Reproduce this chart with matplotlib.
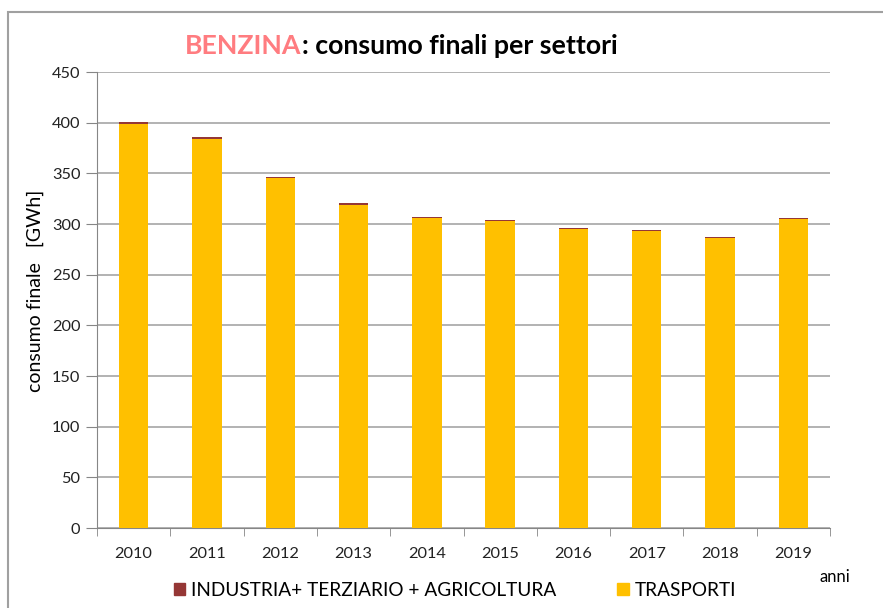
import numpy as np
import matplotlib
matplotlib.use('Agg')
from matplotlib import pyplot as plt
from matplotlib.patches import Rectangle, Patch

plt.rcParams['font.family'] = ['Lato', 'DejaVu Sans']

#%% Data
anni = ['2010', '2011', '2012', '2013', '2014', '2015', '2016', '2017', '2018', '2019']
trasporti = [399, 384, 345, 319, 306, 303, 295, 293, 286, 305]
industria = [1.5, 1.5, 1.5, 1.4, 1.4, 1.4, 1.4, 1.4, 1.3, 1.4]

col_tra = '#FFC000'
col_ind = '#953735'
grid_col = '#A6A6A6'

#%% Plot
fig = plt.figure(figsize=(8.83, 6.08), dpi=100)
fig.patches.append(Rectangle((8 / 883, -0.1), 1.2, (608 - 12) / 608 + 0.1, transform=fig.transFigure,
                             fill=False, edgecolor='#A0A0A0', linewidth=1.5))
ax = fig.add_axes([97 / 883, 80 / 608, 733 / 883, 456 / 608])

x = np.arange(len(anni))
ax.bar(x, trasporti, width=0.4, color=col_tra, zorder=3)
ax.bar(x, industria, width=0.4, bottom=trasporti, color=col_ind, zorder=3)

ax.set_xlim(-0.5, len(anni) - 0.5)
ax.set_ylim(0, 450)
ax.set_yticks(range(0, 451, 50))
ax.set_xticks(x)
ax.set_xticklabels(anni)
ax.set_xticks(np.arange(-0.5, len(anni), 1), minor=True)
ax.tick_params(axis='x', which='major', length=0, pad=14, labelsize=11.8, labelcolor='#222222')
ax.tick_params(axis='x', which='minor', length=6, colors='#868686', direction='out')
ax.tick_params(axis='y', length=8, colors='#868686', labelcolor='#222222', labelsize=11.8, pad=4)
ax.yaxis.grid(True, color=grid_col, linewidth=1.2, zorder=0)
for s in ['top', 'right']:
    ax.spines[s].set_visible(False)
for s in ['left', 'bottom']:
    ax.spines[s].set_color('#868686')

fig.text(35 / 883, 1 - 291 / 608, 'consumo finale   [GWh]', rotation=90, ha='center', va='center', fontsize=14)

# title
t1 = fig.text(185 / 883, 1 - 46 / 608, 'BENZINA', color='#FF7C80', fontsize=19.3, fontweight='bold', va='center')
fig.canvas.draw()
bb = t1.get_window_extent()
fig.text(bb.x1 / 883, 1 - 46 / 608, ': consumo finali per settori', color='black', fontsize=19.3,
         fontweight='bold', va='center')

handles = [Patch(color=col_ind), Patch(color=col_tra)]
fig.legend(handles, ['INDUSTRIA+ TERZIARIO + AGRICOLTURA', 'TRASPORTI'], loc='center',
           bbox_to_anchor=(455 / 883, 1 - 590 / 608), ncol=2, frameon=False, fontsize=13.7,
           handlelength=0.6, handleheight=0.6, handletextpad=0.3, columnspacing=3.2)
fig.text(835 / 883, 1 - 577 / 608, 'anni', ha='center', va='center', fontsize=12)

fig.savefig('out.png', dpi=100)
